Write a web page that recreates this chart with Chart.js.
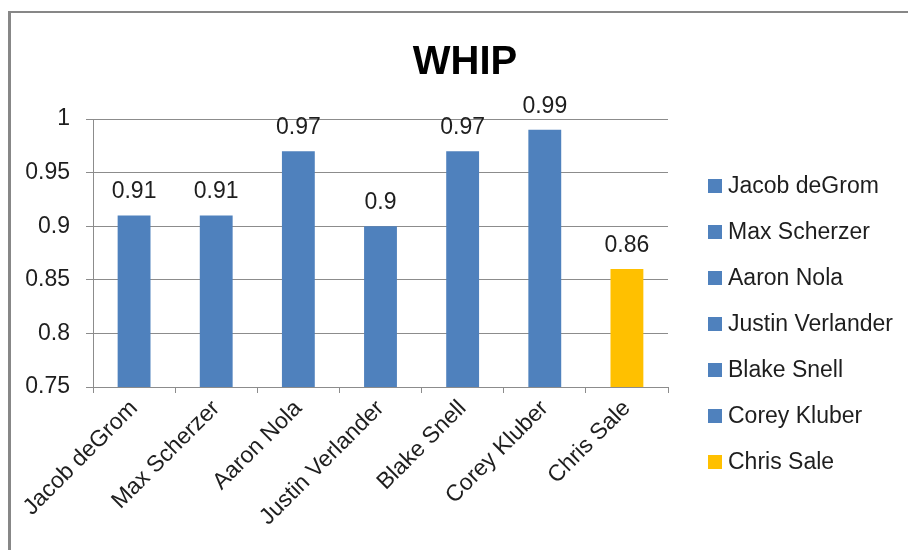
<!DOCTYPE html>
<html>
<head>
<meta charset="utf-8">
<title>WHIP</title>
<script src="https://cdn.jsdelivr.net/npm/chart.js@4/dist/chart.umd.min.js"></script>
<style>
  html, body { margin: 0; padding: 0; background: #fff; overflow: hidden; }
  #frame {
    position: absolute; left: 8px; top: 11px;
    width: 940px; height: 600px;
    border-left: 3px solid #878787; border-top: 2px solid #878787;
    background: #fff;
  }
  #wrap { position: absolute; left: 0; top: 0; width: 908px; height: 560px; }
</style>
</head>
<body>
<div id="frame"><div id="wrap"><canvas id="c"></canvas></div></div>
<script>
// Pitchers and their WHIP
const pitchers = ['Jacob deGrom', 'Max Scherzer', 'Aaron Nola', 'Justin Verlander', 'Blake Snell', 'Corey Kluber', 'Chris Sale'];
const whip = [0.91, 0.91, 0.97, 0.90, 0.97, 0.99, 0.86];
const barColors = ['#4F81BD', '#4F81BD', '#4F81BD', '#4F81BD', '#4F81BD', '#4F81BD', '#FFC000'];
const yTicks = [0.75, 0.8, 0.85, 0.9, 0.95, 1];

const FONT = "'Liberation Sans', Arial, sans-serif";
const TEXT = '#1e1e1e';
const GRID = '#8c8c8c';
const SIZE = 23;

// Value labels drawn above each bar
const valueLabels = {
  id: 'valueLabels',
  afterDatasetsDraw(chart) {
    const ctx = chart.ctx;
    const meta = chart.getDatasetMeta(0);
    const data = chart.data.datasets[0].data;
    ctx.save();
    ctx.font = SIZE + 'px ' + FONT;
    ctx.fillStyle = TEXT;
    ctx.textAlign = 'center';
    ctx.textBaseline = 'alphabetic';
    meta.data.forEach((bar, i) => {
      ctx.fillText(String(data[i]), bar.x, bar.y - 17);
    });
    ctx.restore();
  }
};

// One legend entry per pitcher, in its bar colour
const sideLegend = {
  id: 'sideLegend',
  afterDraw(chart) {
    const ctx = chart.ctx;
    const left = chart.chartArea.right + 40;
    const firstY = 173;
    const step = 46;
    const box = 14;
    ctx.save();
    ctx.font = SIZE + 'px ' + FONT;
    ctx.textAlign = 'left';
    ctx.textBaseline = 'middle';
    pitchers.forEach((name, i) => {
      const cy = firstY + i * step;
      ctx.fillStyle = barColors[i];
      ctx.fillRect(left, cy - box / 2, box, box);
      ctx.fillStyle = TEXT;
      ctx.fillText(name, left + box + 6, cy + 1);
    });
    ctx.restore();
  }
};

new Chart(document.getElementById('c'), {
  type: 'bar',
  data: {
    labels: pitchers,
    datasets: [{
      label: 'WHIP',
      data: whip,
      backgroundColor: barColors,
      borderWidth: 0,
      barPercentage: 0.4,
      categoryPercentage: 1.0
    }]
  },
  options: {
    responsive: true,
    maintainAspectRatio: false,
    animation: false,
    layout: { padding: { left: 0, right: 0, top: 0, bottom: 36 } },
    plugins: {
      legend: { display: false },
      tooltip: { enabled: false },
      title: {
        display: true,
        text: 'WHIP',
        color: '#000',
        font: { family: FONT, size: 40, weight: 'bold', lineHeight: 1.2 },
        padding: { top: 26, bottom: 32 }
      }
    },
    scales: {
      x: {
        offset: true,
        grid: {
          display: true, drawOnChartArea: false, drawTicks: true,
          tickLength: 6, color: GRID, offset: true
        },
        border: { display: true, color: GRID, width: 1 },
        ticks: {
          color: TEXT, font: { family: FONT, size: SIZE },
          maxRotation: 45, minRotation: 45, padding: 2, autoSkip: false
        },
        afterFit(scale) { scale.height = 150; }
      },
      y: {
        min: yTicks[0],
        max: yTicks[yTicks.length - 1],
        afterBuildTicks(scale) { scale.ticks = yTicks.map(v => ({ value: v })); },
        grid: { color: GRID, tickLength: 7, drawTicks: true },
        border: { display: true, color: GRID, width: 1 },
        ticks: {
          color: TEXT, font: { family: FONT, size: SIZE }, padding: 16,
          callback: v => String(+v.toFixed(2))
        },
        afterFit(scale) { scale.width = 82; }
      },
      // empty column on the right that holds the legend
      legendSpace: {
        type: 'linear',
        position: 'right',
        display: true,
        grid: { display: false, drawTicks: false },
        border: { display: false },
        ticks: { display: false },
        afterFit(scale) { scale.width = 251; }
      }
    }
  },
  plugins: [valueLabels, sideLegend]
});
</script>
</body>
</html>
